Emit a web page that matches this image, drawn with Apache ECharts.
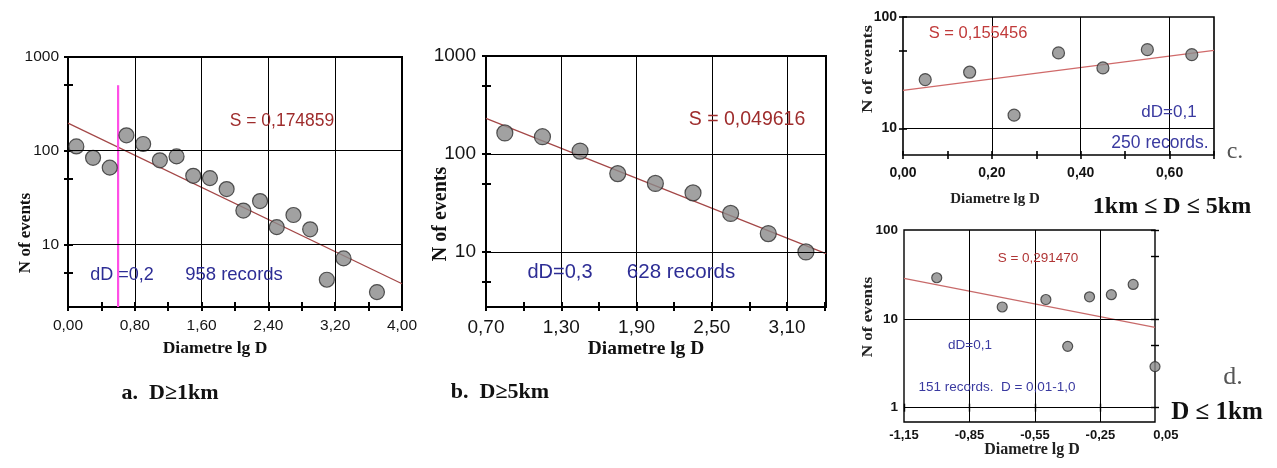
<!DOCTYPE html>
<html><head><meta charset="utf-8">
<script src="https://cdn.jsdelivr.net/npm/echarts@6/dist/echarts.min.js"></script>
<style>html,body{margin:0;padding:0;background:#fff}#c{width:1277px;height:468px}</style>
</head><body><div id="c"></div>
<script>
// ---------- Panel a: D >= 1km ----------
const aX = [0.1,0.3,0.5,0.7,0.9,1.1,1.3,1.5,1.7,1.9,2.1,2.3,2.5,2.7,2.9,3.1,3.3,3.7];
const aN = [111,84,66,146,118,79,87,54,51,39,23,29,15.3,20.6,14.5,4.2,7.1,3.1];
const aFitX = [0,4];
const aFitN = [197,3.8];
const aMarkX = [0.6,0.6];
const aMarkN = [2.15,500];
const aXRange = [0,4];
const aYRange = [2.15,1000];
const aXLabels = [0,0.8,1.6,2.4,3.2,4.0];
const aXTicks = [0,0.4,0.8,1.2,1.6,2.0,2.4,2.8,3.2,3.6,4.0];
const aXGrid = [0.8,1.6,2.4,3.2];
const aYLabels = [10,100,1000];
const aYTicks = [5,10,50,100,500,1000];
const aYGrid = [10,100];

// ---------- Panel b: D >= 5km ----------
const bX = [0.85,1.15,1.45,1.75,2.05,2.35,2.65,2.95,3.25];
const bN = [164,150,107,63,50,40,24.7,15.4,10];
const bFitX = [0.7,3.41];
const bFitN = [231,9.6];
const bXRange = [0.7,3.41];
const bYRange = [2.74,1000];
const bXLabels = [0.7,1.3,1.9,2.5,3.1];
const bXTicks = [0.7,1.0,1.3,1.6,1.9,2.2,2.5,2.8,3.1,3.4];
const bXGrid = [1.3,1.9,2.5,3.1];
const bYLabels = [10,100,1000];
const bYTicks = [5,10,50,100,500,1000];
const bYGrid = [10,100];

// ---------- Panel c: 1km <= D <= 5km ----------
const cX = [0.05,0.15,0.25,0.35,0.45,0.55,0.65];
const cN = [27.5,32,13.2,47.7,35,51,46];
const cFitX = [0,0.7];
const cFitN = [22,50.2];
const cXRange = [0,0.7];
const cYRange = [5.8,100];
const cXLabels = [0,0.2,0.4,0.6];
const cXTicks = [0,0.1,0.2,0.3,0.4,0.5,0.6,0.7];
const cXGrid = [0.2,0.4,0.6];
const cYLabels = [10,100];
const cYTicks = [10,50,100];
const cYGrid = [10];

// ---------- Panel d: D <= 1km ----------
const dX = [-1.0,-0.7,-0.5,-0.4,-0.3,-0.2,-0.1,0.0];
const dN = [29,13.6,16.5,4.9,17.7,18.7,24.4,2.9];
const dFitX = [-1.15,0];
const dFitN = [28.5,8.0];
const dXRange = [-1.15,0];
const dLabelXRange = [-1.15,0.05];
const dYRange = [0.69,100];
const dXLabels = [-1.15,-0.85,-0.55,-0.25,0.05];
const dXTicks = [-1.15,-0.85,-0.55,-0.25];
const dXGrid = [-0.85,-0.55,-0.25];
const dYLabels = [1,10,100];
const dYTicks = [1,5,10,50,100];
const dYGrid = [1,10];

const L = v => Math.log10(v);
const fmt = v => v.toFixed(2).replace('.', ',');
const SANS = '"Liberation Sans", Arial, sans-serif';
const SERIF = '"Liberation Serif", "Times New Roman", serif';

const grids = [], xAxes = [], yAxes = [], series = [];

function addPanel(p) {
  const gi = grids.length;
  grids.push({left:p.box[0], top:p.box[1], width:p.box[2], height:p.box[3], show:true,
    borderColor:'#000', borderWidth:p.bw, backgroundColor:'#fff'});
  const xi = xAxes.length, yi = yAxes.length;
  xAxes.push({gridIndex:gi, type:'value', position:'bottom', min:p.xr[0], max:p.xr[1],
    axisLine:{show:false}, splitLine:{show:false},
    axisTick:{show:true, customValues:p.xt, inside:true, length:p.tl, lineStyle:{color:'#000', width:p.bw}},
    axisLabel:{show:p.xl !== null, customValues:p.xl || [], formatter:fmt, color:'#141414',
      fontFamily:SANS, fontSize:p.fs, fontWeight:p.fw, margin:p.xm}});
  yAxes.push({gridIndex:gi, type:'value', position:'left', min:L(p.yr[0]), max:L(p.yr[1]),
    axisLine:{show:false}, splitLine:{show:false},
    axisTick:{show:true, customValues:p.yt.map(L), inside:true, length:p.tl, lineStyle:{color:'#000', width:p.bw}},
    axisLabel:{customValues:p.yl.map(L), formatter:v => String(Math.round(Math.pow(10, v))), color:'#141414',
      fontFamily:SANS, fontSize:p.fs, fontWeight:p.fw, margin:p.ym}});
  // outer half of the ticks (ticks cross the frame)
  xAxes.push({gridIndex:gi, type:'value', position:'bottom', offset:0, min:p.xr[0], max:p.xr[1],
    axisLine:{show:false}, splitLine:{show:false}, axisLabel:{show:false},
    axisTick:{show:true, customValues:p.xt, inside:false, length:p.to, lineStyle:{color:'#000', width:p.bw}}});
  yAxes.push({gridIndex:gi, type:'value', position:'left', offset:0, min:L(p.yr[0]), max:L(p.yr[1]),
    axisLine:{show:false}, splitLine:{show:false}, axisLabel:{show:false},
    axisTick:{show:true, customValues:p.yt.map(L), inside:false, length:p.to, lineStyle:{color:'#000', width:p.bw}}});
  const ml = p.xg.map(v => ({xAxis:v})).concat(p.yg.map(v => ({yAxis:L(v)})));
  const fit = p.fx.map((x, i) => [x, L(p.fn[i])]);
  series.push({type:'line', xAxisIndex:xi, yAxisIndex:yi, data:fit,
    symbol:'none', lineStyle:{opacity:0}, z:1, silent:true, animation:false,
    markLine:{silent:true, symbol:'none', animation:false, label:{show:false},
      lineStyle:{color:'#000', type:'solid', width:1}, emphasis:{disabled:true}, data:ml}});
  series.push({type:'line', xAxisIndex:xi, yAxisIndex:yi, data:fit,
    symbol:'none', lineStyle:{color:p.fc, width:1.2}, z:3, silent:true, animation:false, clip:false});
  if (p.mx) {
    series.push({type:'line', xAxisIndex:xi, yAxisIndex:yi, data:p.mx.map((x, i) => [x, L(p.mn[i])]),
      symbol:'none', lineStyle:{color:'#ff4fe6', width:2.2}, z:3, silent:true, animation:false});
  }
  series.push({type:'scatter', xAxisIndex:xi, yAxisIndex:yi, data:p.x.map((x, i) => [x, L(p.n[i])]),
    symbol:'circle', symbolSize:p.ss, itemStyle:{color:'#8a8a8a', borderColor:'#2e2e2e', borderWidth:1.2},
    z:4, clip:false, silent:true, animation:false});
  return gi;
}

addPanel({box:[68,57,334,250], bw:2, tl:5, to:4, fs:15.5, fw:'normal', xm:11, ym:9,
  xr:aXRange, yr:aYRange, xt:aXTicks, xl:aXLabels, xg:aXGrid, yt:aYTicks, yl:aYLabels, yg:aYGrid,
  x:aX, n:aN, fx:aFitX, fn:aFitN, fc:'#a34747', ss:15, mx:aMarkX, mn:aMarkN});
addPanel({box:[486,56,340,251], bw:2, tl:5, to:4, fs:19, fw:'normal', xm:11, ym:10,
  xr:bXRange, yr:bYRange, xt:bXTicks, xl:bXLabels, xg:bXGrid, yt:bYTicks, yl:bYLabels, yg:bYGrid,
  x:bX, n:bN, fx:bFitX, fn:bFitN, fc:'#a34747', ss:16});
addPanel({box:[903,17,311,138], bw:1.6, tl:4, to:4, fs:14, fw:'bold', xm:11, ym:6,
  xr:cXRange, yr:cYRange, xt:cXTicks, xl:cXLabels, xg:cXGrid, yt:cYTicks, yl:cYLabels, yg:cYGrid,
  x:cX, n:cN, fx:cFitX, fn:cFitN, fc:'#d06a6a', ss:12});
addPanel({box:[904,230,251,192], bw:1.4, tl:4, to:4, fs:13.5, fw:'bold', xm:6, ym:6,
  xr:dXRange, yr:dYRange, xt:dXTicks, xl:null, xg:dXGrid, yt:dYTicks, yl:dYLabels, yg:dYGrid,
  x:dX, n:dN, fx:dFitX, fn:dFitN, fc:'#c86a6a', ss:10});

// label-only axis for panel d (its last label sits beyond the frame)
const dlg = grids.length;
grids.push({left:904, top:230, width:251 * (dLabelXRange[1] - dLabelXRange[0]) / (dXRange[1] - dXRange[0]), height:192, show:false});
const dlx = xAxes.length, dly = yAxes.length;
xAxes.push({gridIndex:dlg, type:'value', min:dLabelXRange[0], max:dLabelXRange[1],
  axisLine:{show:false}, axisTick:{show:false}, splitLine:{show:false},
  axisLabel:{customValues:dXLabels, formatter:fmt, color:'#141414', fontFamily:SANS, fontSize:13, fontWeight:'bold', margin:7}});
yAxes.push({gridIndex:dlg, type:'value', min:0, max:1, show:false});
series.push({type:'scatter', xAxisIndex:dlx, yAxisIndex:dly, data:[], silent:true});

function txt(t, x, y, font, fill, opt) {
  return Object.assign({type:'text', x:x, y:y, silent:true, z:10,
    style:{text:t, font:font, fill:fill, textAlign:'center', textVerticalAlign:'middle'}}, opt || {});
}
const RED = '#9e2c2c', BLUE = '#2d2d95';
const graphics = [
  // panel a
  txt('S = 0,174859', 282, 121, '17.5px ' + SANS, RED),
  txt('dD =0,2', 122, 275, '18px ' + SANS, BLUE),
  txt('958 records', 234, 275, '18.5px ' + SANS, BLUE),
  txt('Diametre lg D', 215, 348, 'bold 17.5px ' + SERIF, '#111'),
  txt('N of events', 26, 233, 'bold 17px ' + SERIF, '#111', {rotation:Math.PI / 2}),
  txt('a.  D≥1km', 170, 393, 'bold 22px ' + SERIF, '#111'),
  // panel b
  txt('S = 0,049616', 747, 120, '19.5px ' + SANS, RED),
  txt('dD=0,3', 560, 272, '20px ' + SANS, BLUE),
  txt('628 records', 681, 272, '20.5px ' + SANS, BLUE),
  txt('Diametre lg D', 646, 349, 'bold 19.5px ' + SERIF, '#111'),
  txt('N of events', 441, 214, 'bold 20px ' + SERIF, '#111', {rotation:Math.PI / 2}),
  txt('b.  D≥5km', 500, 392, 'bold 22px ' + SERIF, '#111'),
  // panel c
  txt('S = 0,155456', 978, 33, '16.5px ' + SANS, '#c03a3a'),
  txt('dD=0,1', 1169, 112, '17px ' + SANS, '#3a3aa0'),
  txt('250 records.', 1160, 143, '17.5px ' + SANS, '#3a3aa0'),
  txt('Diametre lg D', 995, 199, 'bold 15px ' + SERIF, '#222'),
  txt('N of events', 868, 69, 'bold 15.5px ' + SERIF, '#222', {rotation:Math.PI / 2, scaleX:1.2}),
  txt('c.', 1235, 152, '24px ' + SERIF, '#555'),
  txt('1km ≤ D ≤ 5km', 1172, 207, 'bold 24px ' + SERIF, '#111'),
  // panel d
  txt('S = 0,291470', 1038, 258, '13.5px ' + SANS, '#b03535'),
  txt('dD=0,1', 970, 345, '13.5px ' + SANS, '#3a3aa0'),
  txt('151 records.  D = 0,01-1,0', 997, 387, '13.5px ' + SANS, '#3a3aa0'),
  txt('Diametre lg D', 1032, 450, 'bold 16px ' + SERIF, '#222'),
  txt('N of events', 868, 317, 'bold 15.5px ' + SERIF, '#222', {rotation:Math.PI / 2, scaleX:1.1}),
  txt('d.', 1233, 377, '26px ' + SERIF, '#555'),
  txt('D ≤ 1km', 1217, 413, 'bold 25px ' + SERIF, '#111')
];

const chart = echarts.init(document.getElementById('c'), null, {renderer:'canvas'});
chart.setOption({
  backgroundColor:'#fff',
  animation:false,
  grid:grids, xAxis:xAxes, yAxis:yAxes, series:series,
  graphic:graphics
});
</script>
</body></html>
